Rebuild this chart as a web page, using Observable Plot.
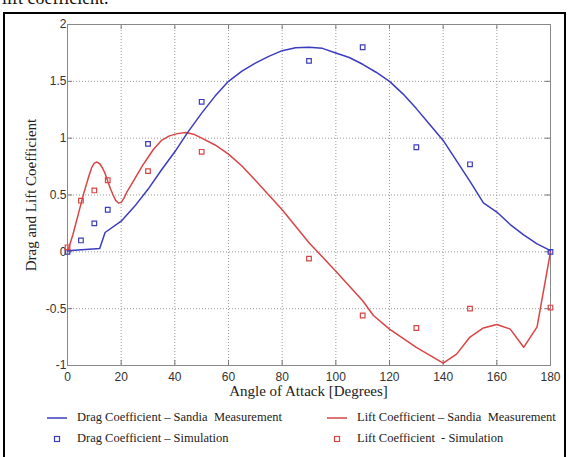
<!DOCTYPE html>
<html><head><meta charset="utf-8">
<script src="https://cdn.jsdelivr.net/npm/d3@7"></script>
<script src="https://cdn.jsdelivr.net/npm/@observablehq/plot@0.6"></script>
<style>
body{margin:0;background:#fff;}
#wrap{position:relative;width:569px;height:457px;overflow:hidden;background:#fff;}
#toptext{position:absolute;left:2px;top:-12px;font:18px "Liberation Serif",serif;color:#111;}
#frame{position:absolute;left:3px;top:12px;width:559px;height:480px;border:2px solid #000;}
#chart{position:absolute;left:0;top:0;}
#xtitle{position:absolute;left:0;width:617px;top:383px;text-align:center;font:15px "Liberation Serif",serif;color:#222;}
.leg{position:absolute;font:12.5px "Liberation Serif",serif;color:#222;white-space:pre;}
.sw{position:absolute;}
#chart svg g[aria-label="y-axis label"] text{font:15px "Liberation Serif",serif;fill:#222;}
</style></head>
<body><div id="wrap">
<div id="toptext">lift coefficient.</div>
<div id="frame"></div>
<div id="chart"></div>
<div id="xtitle">Angle of Attack [Degrees]</div>
<div id="legend"></div>
</div>
<script>
// Measured curves (Sandia)
const dragAngles = [0, 12, 14, 20, 25, 30, 35, 40, 44.6, 50, 55, 60, 65, 70, 75, 80, 85, 90, 95, 100, 105, 110, 115, 120, 125, 130, 135, 140, 145, 150, 155, 160, 165, 170, 175, 180];
const dragMeas   = [0.01, 0.03, 0.17, 0.27, 0.4, 0.55, 0.72, 0.88, 1.044, 1.22, 1.37, 1.5, 1.59, 1.66, 1.72, 1.77, 1.795, 1.8, 1.79, 1.75, 1.71, 1.65, 1.58, 1.5, 1.39, 1.26, 1.12, 0.98, 0.8, 0.62, 0.43, 0.35, 0.24, 0.15, 0.07, 0.01];
const liftAngles = [0, 2, 4, 6, 8, 9, 10, 11, 12, 13, 14, 15, 16, 17, 18, 19, 20, 21, 22, 25, 28, 30, 32, 35, 38, 41, 44, 47, 50, 55, 60, 65, 70, 75, 80, 90, 100, 110, 114, 120, 130, 140, 145, 150, 155, 160, 165, 170, 175, 180];
const liftMeas   = [0.0, 0.15, 0.33, 0.51, 0.67, 0.74, 0.78, 0.79, 0.775, 0.74, 0.69, 0.62, 0.555, 0.5, 0.45, 0.43, 0.435, 0.47, 0.52, 0.64, 0.76, 0.83, 0.9, 0.98, 1.02, 1.04, 1.05, 1.035, 1.0, 0.94, 0.86, 0.755, 0.63, 0.5, 0.37, 0.08, -0.17, -0.43, -0.56, -0.68, -0.84, -0.98, -0.9, -0.75, -0.67, -0.64, -0.68, -0.84, -0.66, 0.0];
// Simulation points
const simAngles = [0, 5, 10, 15, 30, 50, 90, 110, 130, 150, 180];
const dragSim   = [0, 0.1, 0.25, 0.37, 0.95, 1.32, 1.68, 1.8, 0.92, 0.77, 0];
const liftSim   = [0.04, 0.45, 0.54, 0.63, 0.71, 0.88, -0.06, -0.56, -0.67, -0.5, -0.49];
const xTicks = [0, 20, 40, 60, 80, 100, 120, 140, 160, 180];
const yTicks = [-1, -0.5, 0, 0.5, 1, 1.5, 2];

const blue = "#3c3cc0", red = "#d94545";
const dragLine = dragAngles.map((a, i) => ({a, v: dragMeas[i]}));
const liftLine = liftAngles.map((a, i) => ({a, v: liftMeas[i]}));
const dragPts = simAngles.map((a, i) => ({a, v: dragSim[i]}));
const liftPts = simAngles.map((a, i) => ({a, v: liftSim[i]}));

const chart = Plot.plot({
  width: 569, height: 400,
  marginLeft: 67, marginRight: 19, marginTop: 24, marginBottom: 35,
  style: {fontFamily: '"Liberation Sans", Arial, sans-serif', fontSize: "12px", color: "#333", background: "transparent"},
  x: {domain: [0, 180]},
  y: {domain: [-1, 2]},
  marks: [
    Plot.gridX(xTicks, {stroke: "#999", strokeOpacity: 1, strokeDasharray: "1,2"}),
    Plot.gridY(yTicks, {stroke: "#999", strokeOpacity: 1, strokeDasharray: "1,2"}),
    Plot.ruleX(xTicks, {y1: 2, y2: 1.955, stroke: "#777"}),
    Plot.ruleX(xTicks, {y1: -1, y2: -0.955, stroke: "#777"}),
    Plot.ruleY(yTicks, {x1: 0, x2: 1.9, stroke: "#777"}),
    Plot.ruleY(yTicks, {x1: 180, x2: 178.1, stroke: "#777"}),
    Plot.frame({stroke: "#888"}),
    Plot.axisX(xTicks, {tickSize: 0, tickPadding: 7, label: null, fill: "#333"}),
    Plot.axisY(yTicks, {tickSize: 0, tickPadding: 1, fill: "#333", label: "Drag and Lift Coefficient", labelAnchor: "center", labelOffset: 42, labelArrow: "none", tickFormat: d => String(d)}),
    Plot.line(liftLine, {x: "a", y: "v", stroke: red, strokeWidth: 1.5, strokeLinejoin: "round"}),
    Plot.line(dragLine, {x: "a", y: "v", stroke: blue, strokeWidth: 1.5, strokeLinejoin: "round"}),
    Plot.dot(dragPts, {x: "a", y: "v", symbol: "square", r: 2.6, stroke: blue, strokeWidth: 1.2, fill: "none"}),
    Plot.dot(liftPts, {x: "a", y: "v", symbol: "square", r: 2.6, stroke: red, strokeWidth: 1.2, fill: "none"})
  ]
});
document.getElementById("chart").appendChild(chart);

// Legend
const legendItems = [
  {label: "Drag Coefficient \u2013 Sandia  Measurement", color: blue, kind: "line", x: 46, y: 410},
  {label: "Lift Coefficient \u2013 Sandia  Measurement", color: red, kind: "line", x: 326, y: 410},
  {label: "Drag Coefficient \u2013 Simulation", color: blue, kind: "square", x: 46, y: 431},
  {label: "Lift Coefficient  - Simulation", color: red, kind: "square", x: 326, y: 431}
];
const leg = document.getElementById("legend");
for (const it of legendItems) {
  const sw = document.createElementNS("http://www.w3.org/2000/svg", "svg");
  sw.setAttribute("width", 22); sw.setAttribute("height", 14);
  sw.setAttribute("class", "sw");
  sw.style.left = it.x + "px"; sw.style.top = (it.y + 1) + "px";
  if (it.kind === "line") {
    sw.innerHTML = `<line x1="1" x2="21" y1="7" y2="7" stroke="${it.color}" stroke-width="1.5"/>`;
  } else {
    sw.innerHTML = `<rect x="8.5" y="4.5" width="5" height="5" fill="none" stroke="${it.color}" stroke-width="1.2"/>`;
  }
  leg.appendChild(sw);
  const t = document.createElement("div");
  t.className = "leg"; t.textContent = it.label;
  t.style.left = (it.x + 31) + "px"; t.style.top = it.y + "px";
  leg.appendChild(t);
}
</script>
</body></html>
